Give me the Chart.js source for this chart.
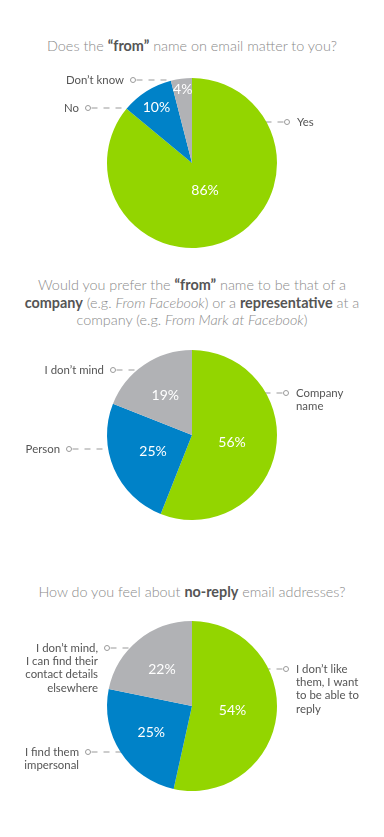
<!DOCTYPE html>
<html>
<head>
<meta charset="utf-8">
<script src="https://cdn.jsdelivr.net/npm/chart.js@4"></script>
<style>
  html, body { margin: 0; padding: 0; background: #fff; }
  body { width: 384px; height: 837px; position: relative; overflow: hidden; font-family: Lato, "Open Sans", sans-serif; }
  .title { position: absolute; left: 0; width: 384px; text-align: center; color: #8a8a8a; font-weight: 300; font-size: 14.4px; line-height: 17.5px; }
  .title b { color: #555; font-weight: 700; }
  .title i { font-style: italic; }
  canvas { position: absolute; left: 0; }
</style>
</head>
<body>
<div class="title" style="top:37px">Does the <b>“from”</b> name on email matter to you?</div>
<div class="title" style="top:276px">Would you prefer the <b>“from”</b> name to be that of a<br><b>company</b> (e.g. <i>From Facebook</i>) or a <b>representative</b> at a<br>company (e.g. <i>From Mark at Facebook</i>)</div>
<div class="title" style="top:583px">How do you feel about <b>no-reply</b> email addresses?</div>

<canvas id="chart1" width="384" height="190" style="top:68px"></canvas>
<canvas id="chart2" width="384" height="190" style="top:340px"></canvas>
<canvas id="chart3" width="384" height="190" style="top:611px"></canvas>

<script>
// dados
const fromLabels = ["Yes", "No", "Don’t know"];
const fromValues = [86, 10, 4];

const companyLabels = [["Company", "name"], ["Person"], ["I don’t mind"]];
const companyValues = [56, 25, 19];

const noReplyLabels = [["I don’t like", "them, I want", "to be able to", "reply"], ["I find them", "impersonal"], ["I don’t mind,", "I can find their", "contact details", "elsewhere"]];
const noReplyValues = [54, 25, 22];

const sliceColors = ["#93d500", "#0082c8", "#b1b2b5"];

// posição das etiquetas (relativo ao centro): lado, x do círculo, y, fim da linha
const fromLeaders = [
    { side: "right", cx: 95, cy: -41, lx: 67 },
    { side: "left", cx: -104, cy: -55, lx: -67 },
    { side: "left", cx: -59, cy: -83, lx: -22 }
];
const companyLeaders = [
    { side: "right", cx: 94, cy: -42, lx: 66 },
    { side: "left", cx: -123, cy: 14, lx: -79 },
    { side: "left", cx: -79, cy: -65, lx: -34 }
];
const noReplyLeaders = [
    { side: "right", cx: 94, cy: -37, lx: 66 },
    { side: "left", cx: -104, cy: 46, lx: -59 },
    { side: "left", cx: -85, cy: -58, lx: -39 }
];

// distância do rótulo % (fração do raio)
const fromPctRadius = [0.36, 0.78, 0.87];
const companyPctRadius = [0.48, 0.5, 0.56];
const noReplyPctRadius = [0.48, 0.57, 0.56];

const leaderPlugin = {
    id: "leaders",
    beforeDatasetsDraw(chart, args, opts) {
        const ctx = chart.ctx;
        const arc = chart.getDatasetMeta(0).data[0];
        const x0 = arc.x, y0 = arc.y;
        ctx.save();
        opts.leaders.forEach((l, i) => {
            const cy = y0 + l.cy;
            const cx = x0 + l.cx;
            const dir = l.side === "right" ? -1 : 1;
            ctx.strokeStyle = "#9a9a9a";
            ctx.lineWidth = 1;
            ctx.setLineDash([6, 6]);
            ctx.beginPath();
            ctx.moveTo(cx + dir * 3.5, cy);
            ctx.lineTo(x0 + l.lx, cy);
            ctx.stroke();
            ctx.setLineDash([]);
            ctx.beginPath();
            ctx.arc(cx, cy, 2.5, 0, Math.PI * 2);
            ctx.stroke();

            const lines = Array.isArray(opts.labels[i]) ? opts.labels[i] : [opts.labels[i]];
            ctx.fillStyle = "#555";
            ctx.font = "11.4px Lato";
            ctx.textBaseline = "middle";
            ctx.textAlign = l.side === "right" ? "left" : "right";
            const tx = l.side === "right" ? cx + 10 : cx - 9;
            lines.forEach((t, j) => ctx.fillText(t, tx, cy + j * 13.3));
        });
        ctx.restore();
    },
    afterDatasetsDraw(chart, args, opts) {
        const ctx = chart.ctx;
        const meta = chart.getDatasetMeta(0);
        const values = chart.data.datasets[0].data;
        ctx.save();
        ctx.fillStyle = "#fff";
        ctx.font = "14px Lato";
        ctx.textAlign = "center";
        ctx.textBaseline = "middle";
        meta.data.forEach((a, i) => {
            const mid = (a.startAngle + a.endAngle) / 2;
            const r = a.outerRadius * opts.pctRadius[i];
            ctx.fillText(values[i] + "%", a.x + Math.cos(mid) * r, a.y + Math.sin(mid) * r);
        });
        ctx.restore();
    }
};

function criarPizza(id, labels, values, leaders, pctRadius) {
    return new Chart(document.getElementById(id), {
        type: "pie",
        data: {
            labels: labels.map(l => Array.isArray(l) ? l.join(" ") : l),
            datasets: [{
                data: values,
                backgroundColor: sliceColors,
                borderWidth: 0
            }]
        },
        options: {
            responsive: false,
            animation: false,
            layout: { padding: { top: 10, bottom: 10 } },
            plugins: {
                legend: { display: false },
                tooltip: { enabled: false },
                leaders: { leaders, labels, pctRadius }
            }
        },
        plugins: [leaderPlugin]
    });
}

criarPizza("chart1", fromLabels, fromValues, fromLeaders, fromPctRadius);
criarPizza("chart2", companyLabels, companyValues, companyLeaders, companyPctRadius);
criarPizza("chart3", noReplyLabels, noReplyValues, noReplyLeaders, noReplyPctRadius);
</script>
</body>
</html>
